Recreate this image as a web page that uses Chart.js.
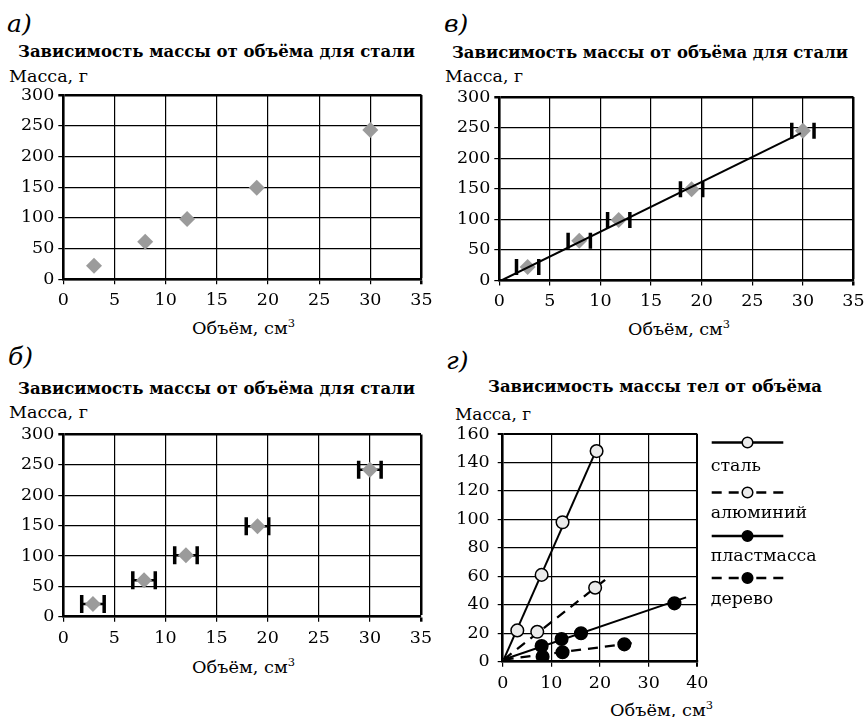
<!DOCTYPE html>
<html lang="ru">
<head>
<meta charset="utf-8">
<script src="https://cdn.jsdelivr.net/npm/chart.js@4.4.1/dist/chart.umd.min.js"></script>
<style>
html, body { margin: 0; padding: 0; background: #fff; overflow: hidden; }
body { width: 865px; height: 717px; position: relative; font-family: "DejaVu Serif", serif; color: #000; }
.t { position: absolute; line-height: 1; white-space: nowrap; transform-origin: 0 0; }
.lbl { font-style: italic; font-size: 25px; }
.ttl { font-weight: bold; font-size: 16.5px; }
.ax { font-size: 17px; }
.sup { font-size: 11px; position: relative; top: -7px; }
canvas { position: absolute; }
</style>
</head>
<body>

<div class="t lbl" style="left:7px; top:11px">а)</div>
<div class="t ttl" data-w="397" style="left:18px; top:44px">Зависимость массы от объёма для стали</div>
<div class="t ax" data-w="79" style="left:9px; top:67.6px">Масса, г</div>
<div class="t ax" data-w="103" style="left:192px; top:319.6px">Объём, см<span class="sup">3</span></div>
<canvas id="chartA" width="440" height="235" style="left:0; top:85px"></canvas>

<div class="t lbl" style="left:444px; top:11px">в)</div>
<div class="t ttl" data-w="396" style="left:452px; top:45px">Зависимость массы от объёма для стали</div>
<div class="t ax" data-w="78" style="left:445px; top:67.6px">Масса, г</div>
<div class="t ax" data-w="102" style="left:628px; top:320.6px">Объём, см<span class="sup">3</span></div>
<canvas id="chartV" width="425" height="235" style="left:440px; top:85px"></canvas>

<div class="t lbl" style="left:8px; top:344px">б)</div>
<div class="t ttl" data-w="397" style="left:18px; top:381px">Зависимость массы от объёма для стали</div>
<div class="t ax" data-w="79" style="left:9px; top:404px">Масса, г</div>
<div class="t ax" data-w="103" style="left:192px; top:659px">Объём, см<span class="sup">3</span></div>
<canvas id="chartB" width="440" height="235" style="left:0; top:422px"></canvas>

<div class="t lbl" style="left:446px; top:348px">г)</div>
<div class="t ttl" data-w="334" style="left:488px; top:379px">Зависимость массы тел от объёма</div>
<div class="t ax" data-w="76" style="left:455px; top:405.6px">Масса, г</div>
<div class="t ax" data-w="103" style="left:610px; top:701.6px">Объём, см<span class="sup">3</span></div>
<canvas id="chartG" width="425" height="280" style="left:440px; top:420px"></canvas>

<script>
// steel, panels а), б), в)
const volA = [3, 8, 12.1, 18.9, 30];
const massA = [22, 61, 98, 149, 243];
const volB = [2.9, 7.9, 12, 19, 30];
const massB = [21, 60, 101, 149, 242];
const volV = [2.8, 7.9, 11.8, 19, 30];
const massV = [22, 65, 99, 149, 245];
const volError = 1.1;
const trendVolV = [0.2, 29.8];
const trendMassV = [0, 241];
const steelTicksX = [0, 5, 10, 15, 20, 25, 30, 35];
const steelTicksY = [0, 50, 100, 150, 200, 250, 300];

// panel г), several materials
const materials = ['сталь', 'алюминий', 'пластмасса', 'дерево'];
const steelVol = [3, 8, 12.3, 19.3];
const steelMass = [22, 61, 98, 148];
const aluVol = [7.1, 19];
const aluMass = [21, 52];
const plastVol = [8, 12.1, 16.1, 35.3];
const plastMass = [11, 16, 20, 41];
const woodVol = [8.2, 12.3, 25];
const woodMass = [3.5, 6.6, 12.2];
const lineStartVol = 0.2;
const lineStartMass = 1.5;
const lineEndVol = [19.1, 21.2, 37.7, 27.9];
const lineEndMass = [147.6, 57.9, 45.2, 13.6];
const matTicksX = [0, 10, 20, 30, 40];
const matTicksY = [0, 20, 40, 60, 80, 100, 120, 140, 160];

const markerFill = ['#ebebeb', '#ebebeb', '#000', '#000'];
const lineDash = [[], [10, 7], [], [10, 7]];

const tickFont = { family: 'DejaVu Serif', size: 17.5 };

// stretch html labels to the widths seen in the picture
document.querySelectorAll('[data-w]').forEach(el => {
  const w = el.getBoundingClientRect().width;
  el.style.transform = 'scaleX(' + (+el.dataset.w / w) + ')';
});

function axis(ticks, fit, pad, edgeW) {
  const max = ticks[ticks.length - 1];
  return {
    type: 'linear',
    min: ticks[0],
    max: max,
    afterBuildTicks: s => { s.ticks = ticks.map(v => ({ value: v })); },
    afterFit: fit,
    grid: {
      color: '#000',
      lineWidth: c => (c.tick && c.tick.value === max) ? edgeW : 1.2,
      tickLength: 5
    },
    border: { display: true, color: '#000', width: 2.5 },
    ticks: { color: '#000', font: tickFont, padding: pad, maxRotation: 0, autoSkip: false }
  };
}

function makeChart(id, datasets, o, plugins) {
  return new Chart(document.getElementById(id), {
    type: 'scatter',
    data: { datasets: datasets },
    options: {
      responsive: false,
      animation: false,
      events: [],
      layout: { padding: { top: o.top, right: o.right, left: 0, bottom: 0 } },
      plugins: { legend: { display: false }, tooltip: { enabled: false } },
      scales: {
        x: axis(o.xTicks, s => { s.height = o.xH; s.paddingLeft = 0; s.paddingRight = 0; }, o.xPad, o.edge),
        y: axis(o.yTicks, s => { s.width = o.yW; s.paddingTop = 0; s.paddingBottom = 0; }, o.yPad, o.edge)
      }
    },
    plugins: plugins || []
  });
}

function diamonds(vol, mass) {
  return {
    data: vol.map((v, i) => ({ x: v, y: mass[i] })),
    pointStyle: 'rectRot',
    pointRadius: 8,
    pointBackgroundColor: '#9b9b9b',
    pointBorderColor: '#9b9b9b',
    pointBorderWidth: 0
  };
}

function caps(vol, mass, r) {
  return {
    data: vol.flatMap((v, i) => [{ x: v - volError, y: mass[i] }, { x: v + volError, y: mass[i] }]),
    pointStyle: 'line',
    pointRotation: 90,
    pointRadius: r,
    pointBorderWidth: 3.5,
    pointBorderColor: '#000'
  };
}

function bars(vol, mass) {
  return vol.map((v, i) => ({
    data: [{ x: v - volError, y: mass[i] }, { x: v + volError, y: mass[i] }],
    showLine: true,
    borderColor: '#000',
    borderWidth: 2.5,
    pointRadius: 0
  }));
}

// а)
makeChart('chartA', [diamonds(volA, massA)], {
  top: 10, right: 18.5, yW: 63.3, xH: 40.7, xPad: 6, yPad: 4, edge: 2.5,
  xTicks: steelTicksX, yTicks: steelTicksY
});

// б)
makeChart('chartB', [diamonds(volB, massB), caps(volB, massB, 9)].concat(bars(volB, massB)), {
  top: 10, right: 19, yW: 63.3, xH: 40.3, xPad: 6, yPad: 4, edge: 2.5,
  xTicks: steelTicksX, yTicks: steelTicksY
});

// в)
makeChart('chartV', [
  {
    data: trendVolV.map((v, i) => ({ x: v, y: trendMassV[i] })),
    showLine: true, borderColor: '#000', borderWidth: 2, pointRadius: 0
  },
  caps(volV, massV, 8),
  diamonds(volV, massV)
], {
  top: 12, right: 9, yW: 59.3, xH: 39.5, xPad: 5.5, yPad: 4, edge: 2.5,
  xTicks: steelTicksX, yTicks: steelTicksY
});

// г)
const seriesVol = [steelVol, aluVol, plastVol, woodVol];
const seriesMass = [steelMass, aluMass, plastMass, woodMass];

const markerSets = materials.map((m, k) => ({
  label: m,
  data: seriesVol[k].map((v, i) => ({ x: v, y: seriesMass[k][i] })),
  pointStyle: 'circle',
  pointRadius: 6.3,
  pointBorderWidth: 1.5,
  pointBorderColor: '#000',
  pointBackgroundColor: markerFill[k]
}));

const lineSets = materials.map((m, k) => ({
  label: m + ' линия',
  data: [{ x: lineStartVol, y: lineStartMass }, { x: lineEndVol[k], y: lineEndMass[k] }],
  showLine: true,
  borderColor: '#000',
  borderWidth: k % 2 ? 2.3 : 2,
  borderDash: lineDash[k],
  pointRadius: 0
}));

const sideLegend = {
  id: 'sideLegend',
  afterDraw(chart) {
    const ctx = chart.ctx;
    const left = chart.chartArea.right + 14.4;
    const right = chart.chartArea.right + 86;
    const mid = (left + right) / 2;
    const lineY = [22.5, 72.5, 116, 158];
    const textY = [51, 97.5, 141, 184];
    ctx.save();
    ctx.font = '17.5px "DejaVu Serif"';
    const sx = 106 / ctx.measureText('пластмасса').width;
    materials.forEach((m, k) => {
      const y = lineY[k];
      ctx.strokeStyle = '#000';
      ctx.lineWidth = 2.5;
      ctx.setLineDash(lineDash[k]);
      ctx.beginPath();
      ctx.moveTo(left, y);
      ctx.lineTo(mid, y);
      ctx.stroke();
      ctx.beginPath();
      ctx.moveTo(right, y);
      ctx.lineTo(mid, y);
      ctx.stroke();
      ctx.setLineDash([]);
      ctx.beginPath();
      ctx.arc(mid, y, 5.3, 0, Math.PI * 2);
      ctx.fillStyle = markerFill[k];
      ctx.fill();
      ctx.lineWidth = 1.5;
      ctx.stroke();
      ctx.save();
      ctx.translate(left - 1, textY[k]);
      ctx.scale(sx, 1);
      ctx.fillStyle = '#000';
      ctx.textBaseline = 'alphabetic';
      ctx.textAlign = 'left';
      ctx.fillText(m, 0, 0);
      ctx.restore();
    });
    ctx.restore();
  }
};

makeChart('chartG', markerSets.concat(lineSets), {
  top: 14, right: 167.7, yW: 62.7, xH: 38.3, xPad: 6, yPad: 8, edge: 2,
  xTicks: matTicksX, yTicks: matTicksY
}, [sideLegend]);
</script>
</body>
</html>
